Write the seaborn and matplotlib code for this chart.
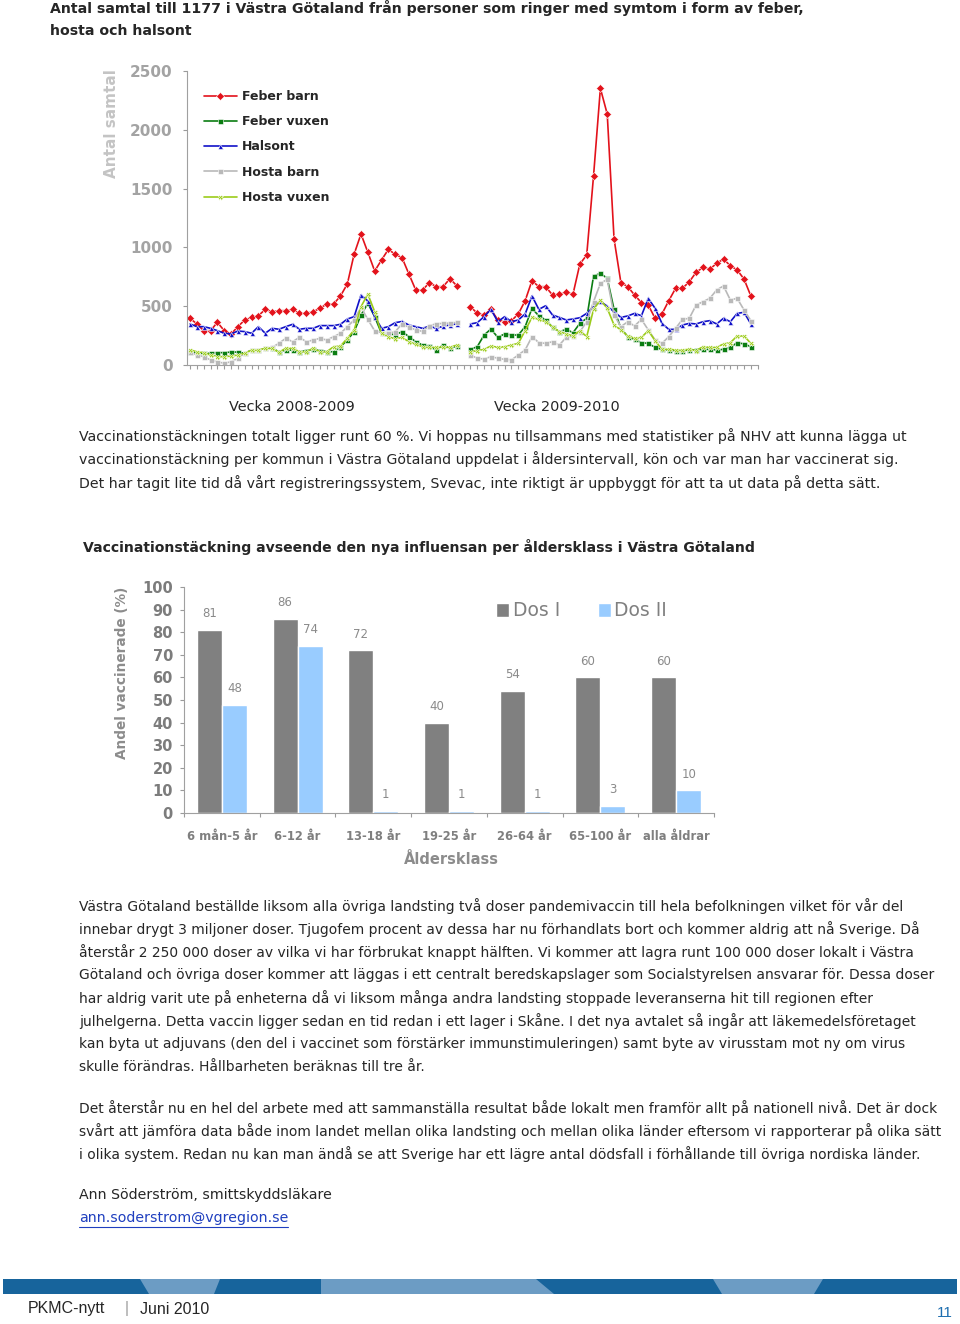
import matplotlib.pyplot as plt
import pandas as pd
import seaborn as sns
from matplotlib.patches import Polygon

# --- data: calls to 1177 per week, two seasons ---
serier = ["Feber barn", "Feber vuxen", "Halsont", "Hosta barn", "Hosta vuxen"]

feber_barn_0809 = [397, 349, 292, 292, 363, 292, 264, 326, 383, 405, 419, 473, 453, 462, 462, 473, 439, 439, 453, 482,
                   519, 519, 587, 689, 944, 1114, 958, 799, 893, 983, 941, 912, 774, 638, 638, 700, 666, 666, 734, 674]
feber_vuxen_0809 = [113, 99, 99, 99, 105, 105, 110, 110, 99, 127, 127, 142, 142, 113, 127, 127, 113, 122, 133, 122,
                    113, 113, 156, 212, 284, 425, 524, 411, 269, 269, 255, 284, 241, 198, 170, 161, 127, 170, 142, 161]
halsont_0809 = [349, 326, 326, 312, 292, 270, 264, 289, 284, 270, 326, 270, 312, 304, 326, 346, 304, 312, 312, 335,
                335, 335, 346, 391, 411, 595, 544, 411, 312, 326, 360, 370, 340, 326, 312, 330, 312, 330, 340, 350]
hosta_barn_0809 = [113, 85, 71, 43, 28, 14, 28, 57, 99, 127, 127, 142, 150, 184, 227, 198, 235, 198, 212, 227,
                   212, 241, 269, 326, 383, 490, 388, 290, 275, 269, 283, 350, 320, 300, 285, 335, 350, 354, 356, 362]
hosta_vuxen_0809 = [127, 113, 105, 85, 71, 71, 76, 85, 99, 127, 127, 142, 142, 108, 142, 142, 113, 113, 142, 113,
                    113, 156, 161, 227, 298, 496, 603, 453, 269, 241, 221, 235, 198, 176, 156, 150, 150, 156, 150, 170]

feber_barn_0910 = [496, 439, 425, 473, 383, 368, 377, 434, 547, 717, 666, 666, 595, 604, 618, 604, 859, 935, 1609, 2352,
                   2134, 1071, 700, 666, 595, 530, 510, 397, 434, 547, 652, 652, 708, 788, 830, 816, 864, 901, 844, 808,
                   731, 587]
feber_vuxen_0910 = [133, 156, 255, 306, 235, 264, 255, 255, 326, 482, 417, 383, 320, 283, 303, 275, 354, 397, 757, 779,
                    737, 473, 312, 241, 218, 190, 184, 150, 133, 128, 122, 122, 128, 128, 133, 133, 128, 133, 150, 190,
                    179, 156]
halsont_0910 = [349, 360, 411, 473, 368, 411, 368, 383, 434, 587, 473, 504, 425, 405, 383, 391, 402, 439, 496, 540,
                500, 453, 405, 417, 439, 419, 567, 482, 354, 303, 303, 340, 354, 349, 368, 377, 349, 397, 368, 439,
                448, 349]
hosta_barn_0910 = [85, 57, 51, 71, 57, 48, 43, 85, 128, 241, 190, 184, 198, 170, 235, 247, 283, 368, 538, 694,
                   728, 425, 326, 368, 332, 388, 298, 213, 184, 241, 312, 388, 397, 510, 538, 567, 638, 672, 553, 567,
                   468, 377]
hosta_vuxen_0910 = [113, 122, 133, 162, 150, 156, 170, 184, 292, 405, 388, 368, 326, 283, 264, 247, 292, 241, 473, 553,
                    482, 340, 298, 247, 227, 235, 292, 207, 133, 133, 128, 128, 133, 122, 156, 150, 150, 179, 190, 247,
                    247, 184]

# --- data: vaccination coverage per age class ---
klasser = ["6 mån-5 år", "6-12 år", "13-18 år", "19-25 år", "26-64 år", "65-100 år", "alla åldrar"]
dos_1 = [81, 86, 72, 40, 54, 60, 60]
dos_2 = [48, 74, 1, 1, 1, 3, 10]

rubrik_1 = ["Antal samtal till 1177 i Västra Götaland från personer som ringer med symtom i form av feber,",
            "hosta och halsont"]
rubrik_2 = "Vaccinationstäckning avseende den nya influensan per åldersklass i Västra Götaland"
stycke_1 = [
    "Vaccinationstäckningen totalt ligger runt 60 %. Vi hoppas nu tillsammans med statistiker på NHV att kunna lägga ut",
    "vaccinationstäckning per kommun i Västra Götaland uppdelat i åldersintervall, kön och var man har vaccinerat sig.",
    "Det har tagit lite tid då vårt registreringssystem, Svevac, inte riktigt är uppbyggt för att ta ut data på detta sätt.",
]
stycke_2 = [
    "Västra Götaland beställde liksom alla övriga landsting två doser pandemivaccin till hela befolkningen vilket för vår del",
    "innebar drygt 3 miljoner doser. Tjugofem procent av dessa har nu förhandlats bort och kommer aldrig att nå Sverige. Då",
    "återstår 2 250 000 doser av vilka vi har förbrukat knappt hälften. Vi kommer att lagra runt 100 000 doser lokalt i Västra",
    "Götaland och övriga doser kommer att läggas i ett centralt beredskapslager som Socialstyrelsen ansvarar för. Dessa doser",
    "har aldrig varit ute på enheterna då vi liksom många andra landsting stoppade leveranserna hit till regionen efter",
    "julhelgerna. Detta vaccin ligger sedan en tid redan i ett lager i Skåne. I det nya avtalet så ingår att läkemedelsföretaget",
    "kan byta ut adjuvans (den del i vaccinet som förstärker immunstimuleringen) samt byte av virusstam mot ny om virus",
    "skulle förändras. Hållbarheten beräknas till tre år.",
]
stycke_3 = [
    "Det återstår nu en hel del arbete med att sammanställa resultat både lokalt men framför allt på nationell nivå. Det är dock",
    "svårt att jämföra data både inom landet mellan olika landsting och mellan olika länder eftersom vi rapporterar på olika sätt",
    "i olika system. Redan nu kan man ändå se att Sverige har ett lägre antal dödsfall i förhållande till övriga nordiska länder.",
]

sns.set_style("ticks")
plt.rcParams["font.family"] = ["DejaVu Sans"]

W, H = 960, 1324
fig = plt.figure(figsize=(W / 100, H / 100), dpi=100)
fig.patch.set_facecolor("white")
renderer = fig.canvas.get_renderer()

# page layer in pixel coordinates
page = fig.add_axes([0, 0, 1, 1], zorder=-1)
page.set_xlim(0, W)
page.set_ylim(H, 0)
page.axis("off")


def skriv(x, y, rad, bredd, bold=False, **kw):
    # fit one line of text to the width it has in the source page
    t = page.text(x, y, rad, fontsize=10, fontweight="bold" if bold else "normal", va="center", **kw)
    w = t.get_window_extent(renderer).width
    t.set_fontsize(10 * bredd / w)
    return t


def stycke(rader, y0, steg, storlek):
    for i, rad in enumerate(rader):
        page.text(79, y0 + i * steg, rad, ha="left", va="center", fontsize=storlek)


# ---------------- chart 1 ----------------
rows = []
s1_all = [feber_barn_0809, feber_vuxen_0809, halsont_0809, hosta_barn_0809, hosta_vuxen_0809]
s2_all = [feber_barn_0910, feber_vuxen_0910, halsont_0910, hosta_barn_0910, hosta_vuxen_0910]
for namn, s1, s2 in zip(serier, s1_all, s2_all):
    for i, v in enumerate(s1):
        rows.append((i, v, namn, "2008-2009"))
    for i, v in enumerate(s2):
        rows.append((len(s1) + 1 + i, v, namn, "2009-2010"))
df = pd.DataFrame(rows, columns=["vecka", "samtal", "serie", "säsong"])

farger = {"Feber barn": "#e3121b", "Feber vuxen": "#0b7d12", "Halsont": "#1010c8",
          "Hosta barn": "#b9b9b9", "Hosta vuxen": "#9ccc1a"}
markorer = {"Feber barn": "D", "Feber vuxen": "s", "Halsont": "^", "Hosta barn": "s", "Hosta vuxen": "X"}

ax1 = fig.add_axes([186.6 / W, 1 - 365 / H, 571.1 / W, 294 / H])
sns.lineplot(data=df, x="vecka", y="samtal", hue="serie", style="serie", units="säsong", estimator=None,
             palette=farger, markers=markorer, dashes=False, markersize=3.6, markeredgewidth=0.4,
             linewidth=1.2, ax=ax1)
ax1.set_xlim(-0.5, 83)
ax1.set_ylim(0, 2500)
ax1.set_yticks(range(0, 2501, 500))
ax1.set_xticks(range(0, 84))
ax1.set_xticklabels([])
ax1.set_xlabel("")
ax1.set_ylabel("")
ax1.tick_params(axis="x", length=3, width=0.8, color="#9a9a9a")
ax1.tick_params(axis="y", length=3, width=0.8, color="#9a9a9a", pad=7, labelsize=11, labelcolor="#a3a3a3")
plt.setp(ax1.get_yticklabels(), fontweight="bold")
sns.despine(ax=ax1)
for s in ["left", "bottom"]:
    ax1.spines[s].set_color("#a0a0a0")

h, l = ax1.get_legend_handles_labels()
keep = [(hh, ll) for hh, ll in zip(h, l) if ll in serier]
ax1.legend([k[0] for k in keep], [k[1] for k in keep], loc="upper left",
           bbox_to_anchor=(204 / W, 1 - 90 / H), bbox_transform=fig.transFigure, frameon=False,
           borderaxespad=0, borderpad=0, handlelength=2.6, handletextpad=0.4, labelspacing=0.98,
           prop={"weight": "bold", "size": 9})

page.text(112, 124, "Antal samtal", rotation=90, ha="center", va="center", fontsize=11,
          fontweight="bold", color="#c4c4c4")
skriv(292, 407, "Vecka 2008-2009", 125, ha="center")
skriv(557, 407, "Vecka 2009-2010", 125, ha="center")

# ---------------- chart 2 ----------------
df2 = pd.DataFrame({"klass": klasser * 2, "andel": dos_1 + dos_2,
                    "dos": ["Dos I"] * len(dos_1) + ["Dos II"] * len(dos_2)})
ax2 = fig.add_axes([184 / W, 1 - 813 / H, 530 / W, 226 / H])
sns.barplot(data=df2, x="klass", y="andel", hue="dos", palette=["#808080", "#99ccff"], width=0.66,
            saturation=1, ax=ax2)
for c in ax2.containers:
    ax2.bar_label(c, padding=7, fontsize=8.5, color="#8a8a8a")
ax2.set_xlim(-0.5, 6.5)
ax2.set_ylim(0, 100)
ax2.set_yticks(range(0, 101, 10))
ax2.set_xlabel("")
ax2.set_ylabel("")
ax2.set_xticks([i - 0.5 for i in range(8)], minor=True)
ax2.tick_params(axis="x", which="major", length=0, pad=12, labelsize=8.3, labelcolor="#7f7f7f")
ax2.tick_params(axis="x", which="minor", length=3, width=0.8, color="#9a9a9a")
ax2.tick_params(axis="y", length=3, width=0.8, color="#9a9a9a", pad=5, labelsize=10.5, labelcolor="#7c7c7c")
plt.setp(ax2.get_xticklabels(), fontweight="bold")
plt.setp(ax2.get_yticklabels(), fontweight="bold")
sns.despine(ax=ax2)
for s in ["left", "bottom"]:
    ax2.spines[s].set_color("#a0a0a0")

h2, l2 = ax2.get_legend_handles_labels()
leg2 = ax2.legend(h2, l2, loc="center left", bbox_to_anchor=(496 / W, 1 - 611 / H),
                  bbox_transform=fig.transFigure, frameon=False, ncol=2, borderaxespad=0, borderpad=0,
                  handlelength=0.7, handleheight=0.7, handletextpad=0.2, columnspacing=2.0, fontsize=13.5)
for t in leg2.get_texts():
    t.set_color("#808080")

page.text(122, 673, "Andel vaccinerade (%)", rotation=90, ha="center", va="center", fontsize=9.8,
          fontweight="bold", color="#8c8c8c")
page.text(451, 859, "Åldersklass", ha="center", va="center", fontsize=10.5, fontweight="bold", color="#8c8c8c")

# ---------------- page text ----------------
t1 = skriv(50, 8, rubrik_1[0], 752, bold=True)
page.text(50, 31, rubrik_1[1], va="center", fontsize=t1.get_fontsize(), fontweight="bold")

stycke(stycke_1, 436, 23.5, 10.2)
skriv(83, 547, rubrik_2, 671, bold=True)
stycke(stycke_2, 906, 23.0, 10.0)
stycke(stycke_3, 1108, 23.0, 10.0)

page.text(79, 1195, "Ann Söderström, smittskyddsläkare", va="center", fontsize=10.2)
page.text(79, 1218, "ann.soderstrom@vgregion.se", va="center", fontsize=10.2, color="#1f3fbf")
page.plot([79, 288], [1226.5, 1226.5], color="#1f3fbf", linewidth=0.8)

# footer band
mork, ljus = "#17649c", "#6c9cc4"
page.add_patch(Polygon([(3, 1279), (957, 1279), (957, 1294), (3, 1294)], closed=True, color=mork, lw=0))
page.add_patch(Polygon([(140, 1279), (220, 1279), (214, 1294), (149, 1294)], closed=True, color=ljus, lw=0))
page.add_patch(Polygon([(321, 1279), (536, 1279), (554, 1294), (321, 1294)], closed=True, color=ljus, lw=0))
page.add_patch(Polygon([(713, 1279), (823, 1279), (814, 1294), (722, 1294)], closed=True, color=ljus, lw=0))

page.text(28, 1309, "PKMC-nytt", ha="left", va="center", fontsize=11.5, family="Liberation Sans")
page.text(127, 1309, "|", ha="center", va="center", fontsize=11.5, color="#9a9a9a", family="Liberation Sans")
page.text(140, 1309, "Juni 2010", ha="left", va="center", fontsize=11.5, family="Liberation Sans")
page.text(945, 1313, "11", ha="center", va="center", fontsize=11, color="#1f6fb0", family="Liberation Sans")

fig.savefig("out.png", dpi=100)
